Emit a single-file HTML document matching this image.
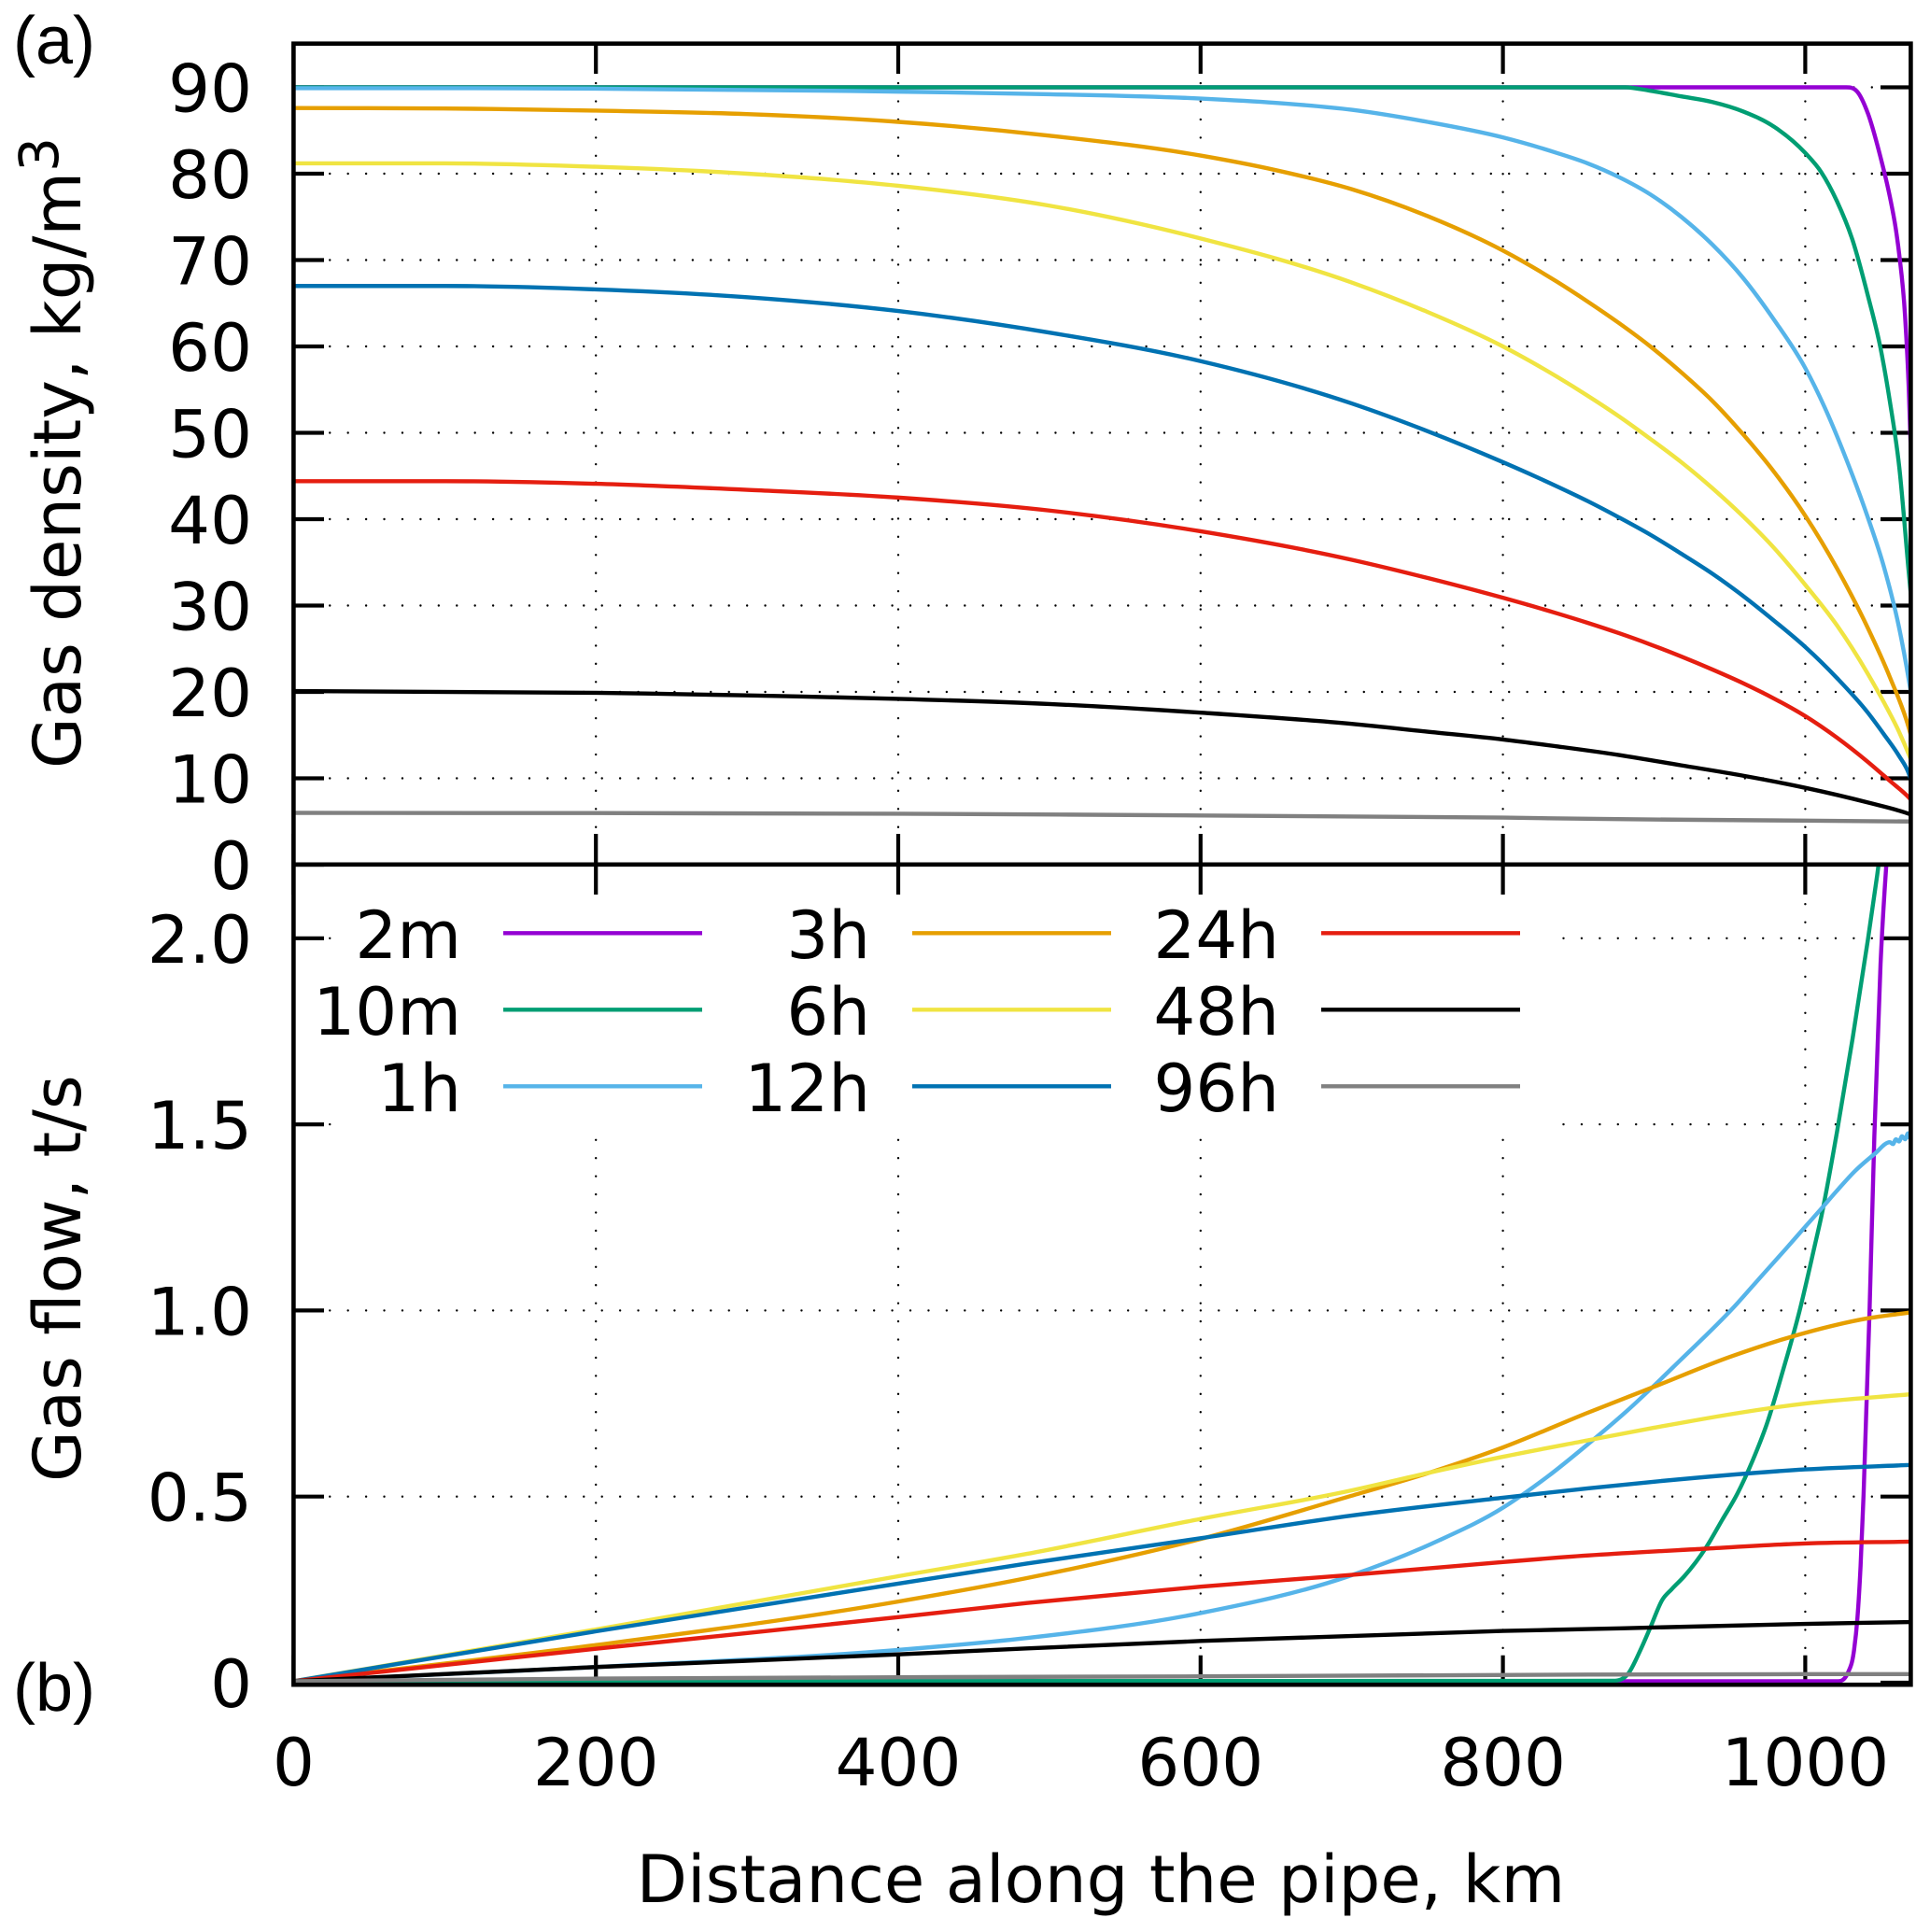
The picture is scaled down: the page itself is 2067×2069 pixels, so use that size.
<!DOCTYPE html>
<html lang="en">
<head>
<meta charset="utf-8">
<title>Gas density and gas flow along the pipe</title>
<style>
html,body{margin:0;padding:0;background:#fff;}
svg{display:block;}
text{font-family:"DejaVu Sans","Liberation Sans",sans-serif;fill:#000;}
.panel-tag{font-family:"Liberation Sans",sans-serif;font-size:72px;}
</style>
</head>
<body>
<svg id="chart" xmlns="http://www.w3.org/2000/svg" width="2067" height="2069" viewBox="0 0 2067 2069">
  <defs>
    <clipPath id="clip-top"><rect x="314.4" y="46.7" width="1732" height="879"/></clipPath>
    <clipPath id="clip-bottom"><rect x="314.4" y="926" width="1732" height="878"/></clipPath>
  </defs>
  <rect x="0" y="0" width="2067" height="2069" fill="#fff"/>
  <g id="grid"></g>
  <rect x="358" y="958" width="1315" height="257" fill="#fff"/>
  <g id="ticks"></g>
  <g id="curves-top" clip-path="url(#clip-top)"></g>
  <g id="curves-bottom" clip-path="url(#clip-bottom)"></g>
  <g fill="none" stroke="#000" stroke-width="4.6">
    <rect x="314.4" y="46.7" width="1732" height="1757.5"/>
    <line x1="314.4" x2="2046.4" y1="925.8" y2="925.8"/>
  </g>
  <g id="labels"></g>
  <g id="legend"></g>
  <text class="panel-tag" x="14" y="68">(a)</text>
  <text class="panel-tag" x="14" y="1832">(b)</text>
  <text font-size="70.6" transform="translate(86 823) rotate(-90)" x="0" y="0">Gas density, kg/m<tspan font-size="58" dy="-24">3</tspan></text>
  <text font-size="70.6" transform="translate(86 1587) rotate(-90)" x="0" y="0">Gas flow, t/s</text>
  <text font-size="70.6" text-anchor="middle" x="1179" y="2037">Distance along the pipe, km</text>
</svg>
<script>
// ---------- Chart data: distance ticks and axis ticks ----------
const xTicks = [0, 200, 400, 600, 800, 1000];
const xTickLabels = ["0", "200", "400", "600", "800", "1000"];
const densityTicks = [0, 10, 20, 30, 40, 50, 60, 70, 80, 90];
const densityTickLabels = ["0", "10", "20", "30", "40", "50", "60", "70", "80", "90"];
const flowTicks = [0, 0.5, 1, 1.5, 2];
const flowTickLabels = ["0", "0.5", "1.0", "1.5", "2.0"];
const seriesLabels = ["2m", "10m", "1h", "3h", "6h", "12h", "24h", "48h", "96h"];

// ---------- Panel (a): gas density, kg/m3 ----------
const densKm2m = [0, 1027, 1034.4, 1041.4, 1049.8, 1056, 1059.9, 1062.2, 1066, 1068.5, 1070];
const dens2m = [90, 90, 89.5, 87, 81.9, 77.3, 73.6, 70.6, 63.6, 55, 47];
const densKm10m = [0, 881, 897.5, 918, 938.5, 959, 979.7, 1000, 1010.5, 1021, 1031.3, 1041.4, 1049.8, 1056, 1062.2, 1068.4, 1070];
const dens10m = [90, 90, 89.6, 88.95, 88.3, 87.2, 85.4, 82.4, 80.2, 76.8, 72.3, 65.9, 59.8, 53.6, 46, 34, 31];
const densKm1h = [0, 100, 200, 400, 500, 600, 650, 700, 750, 800, 835.7, 856, 876.8, 897.5, 918, 938.5, 959, 979.7, 1000, 1012.7, 1027, 1041.4, 1052, 1062, 1068.4, 1070];
const dens1h = [89.9, 89.9, 89.85, 89.5, 89.2, 88.7, 88.2, 87.4, 86, 84.2, 82.4, 81.2, 79.6, 77.6, 75, 71.8, 67.9, 63, 57.5, 53, 47, 40.2, 34.5, 27.5, 21.5, 19.8];
const densKm3h = [0, 100, 200, 300, 400, 500, 600, 650, 700, 750, 800, 835.7, 856, 876.8, 897.5, 918, 938.5, 959, 979.7, 1000, 1021, 1041.4, 1056, 1068.4, 1070];
const dens3h = [87.6, 87.55, 87.3, 86.9, 86, 84.4, 82.1, 80.4, 78.2, 75.1, 71.1, 67.5, 65.2, 62.7, 60, 57, 53.7, 49.8, 45.4, 40.4, 34.3, 27.4, 21.7, 15.9, 14.9];
const densKm6h = [0, 100, 200, 300, 400, 500, 600, 700, 750, 800, 835.7, 856, 876.8, 897.5, 918, 938.5, 959, 979.7, 1000, 1021, 1041.4, 1052, 1062, 1068.4, 1070];
const dens6h = [81.2, 81.2, 80.8, 80, 78.6, 76.3, 72.5, 67.4, 64, 60, 56.5, 54.3, 51.9, 49.3, 46.6, 43.6, 40.3, 36.6, 32.4, 27.7, 22.1, 18.8, 15.4, 12.8, 12.1];
const densKm12h = [0, 100, 200, 300, 400, 500, 600, 700, 750, 800, 835.7, 856, 876.8, 897.5, 918, 938.5, 959, 979.7, 1000, 1021, 1041.4, 1052, 1062, 1068.4, 1070];
const dens12h = [67, 67, 66.6, 65.7, 64.1, 61.6, 58.3, 53.4, 50.2, 46.6, 43.8, 42.1, 40.2, 38.2, 36, 33.7, 31.1, 28.2, 25.2, 21.6, 17.6, 15.1, 12.6, 10.6, 9.8];
const densKm24h = [0, 100, 200, 300, 400, 500, 600, 700, 750, 800, 835.7, 856, 876.8, 897.5, 918, 938.5, 959, 979.7, 1000, 1021, 1041.4, 1056, 1068.4, 1070];
const dens24h = [44.4, 44.4, 44.1, 43.4, 42.5, 41, 38.6, 35.3, 33.2, 30.9, 29.1, 28, 26.8, 25.5, 24.1, 22.6, 21, 19.2, 17.2, 14.7, 11.9, 9.7, 7.8, 7.5];
const densKm48h = [0, 200, 300, 400, 500, 600, 700, 750, 800, 835.7, 876.8, 918, 959, 1000, 1041.4, 1068.4, 1070];
const dens48h = [20.1, 19.9, 19.6, 19.2, 18.6, 17.6, 16.3, 15.4, 14.5, 13.7, 12.7, 11.5, 10.3, 8.9, 7.2, 5.9, 5.8];
const densKm96h = [0, 400, 600, 800, 862, 1000, 1070];
const dens96h = [6, 5.9, 5.7, 5.45, 5.3, 5.1, 5];

// ---------- Panel (b): gas flow, t/s ----------
const flowKm2m = [0, 1021, 1028, 1032.3, 1034.5, 1036.6, 1038.6, 1042.6, 1045.7, 1049.8, 1053.5, 1056];
const flow2m = [0.004, 0.004, 0.025, 0.088, 0.173, 0.314, 0.507, 1.009, 1.468, 1.93, 2.19, 2.32];
const flowKm10m = [0, 873, 883, 891, 897.5, 905.5, 911.6, 920, 934.5, 945, 955, 965, 975, 985, 996.3, 1006.6, 1010.5, 1021, 1031.3, 1041.4, 1047.6, 1055];
const flow10m = [0.004, 0.005, 0.025, 0.088, 0.148, 0.223, 0.251, 0.286, 0.364, 0.437, 0.507, 0.595, 0.7, 0.835, 1, 1.18, 1.25, 1.48, 1.73, 1.995, 2.17, 2.4];
const flowKm1h = [0, 200, 400, 485, 600, 698, 757, 800, 813, 830, 856, 882, 917, 953, 971.6, 987.7, 1000, 1010.5, 1021, 1033, 1045.7, 1056, 1058, 1060, 1062, 1064, 1066, 1068, 1069, 1070];
const flow1h = [0.004, 0.042, 0.088, 0.12, 0.187, 0.286, 0.381, 0.47, 0.505, 0.555, 0.64, 0.73, 0.865, 1.01, 1.095, 1.168, 1.225, 1.273, 1.322, 1.375, 1.42, 1.452, 1.447, 1.46, 1.454, 1.468, 1.46, 1.476, 1.464, 1.48];
const flowKm3h = [0, 200, 400, 485, 600, 698, 752, 800, 856, 900, 950, 1000, 1040, 1070];
const flow3h = [0.004, 0.101, 0.218, 0.281, 0.386, 0.5, 0.565, 0.632, 0.725, 0.795, 0.875, 0.94, 0.978, 0.995];
const flowKm6h = [0, 200, 400, 485, 600, 698, 752, 800, 856, 900, 1000, 1070];
const flow6h = [0.004, 0.143, 0.286, 0.346, 0.44, 0.515, 0.565, 0.607, 0.651, 0.685, 0.75, 0.775];
const flowKm12h = [0, 200, 400, 485, 600, 698, 800, 856, 900, 1000, 1070];
const flow12h = [0.004, 0.138, 0.266, 0.32, 0.388, 0.448, 0.497, 0.522, 0.54, 0.573, 0.585];
const flowKm24h = [0, 200, 400, 485, 600, 698, 800, 836, 934, 1000, 1070];
const flow24h = [0.004, 0.091, 0.176, 0.214, 0.258, 0.289, 0.324, 0.336, 0.36, 0.374, 0.379];
const flowKm48h = [0, 200, 400, 485, 600, 800, 856, 1000, 1070];
const flow48h = [0.004, 0.042, 0.076, 0.092, 0.112, 0.139, 0.144, 0.158, 0.163];
const flowKm96h = [0, 200, 600, 1000, 1070];
const flow96h = [0.004, 0.011, 0.017, 0.023, 0.023];

const densitySeries = [[densKm2m, dens2m], [densKm10m, dens10m], [densKm1h, dens1h], [densKm3h, dens3h], [densKm6h, dens6h], [densKm12h, dens12h], [densKm24h, dens24h], [densKm48h, dens48h], [densKm96h, dens96h]];
const flowSeries = [[flowKm2m, flow2m], [flowKm10m, flow10m], [flowKm1h, flow1h], [flowKm3h, flow3h], [flowKm6h, flow6h], [flowKm12h, flow12h], [flowKm24h, flow24h], [flowKm48h, flow48h], [flowKm96h, flow96h]];

// ---------- Appearance and axis functions ----------
const seriesColors = ["#9400d3", "#009e73", "#56b4e9", "#e69f00", "#f0e442", "#0072b2", "#e51e10", "#000000", "#808080"];
const SVG_NS = "http://www.w3.org/2000/svg";
const FRAME = { left: 314.4, right: 2046.4, top: 46.7, mid: 925.8, bottom: 1804.2 };
function xScale(km) { return 314.4 + km * 1.619; }
function yDensity(v) { return 926 - v * 9.25; }
function yFlow(v) { return 1802 - v * 398.6; }

function make(tag, parent, attrs) {
  const el = document.createElementNS(SVG_NS, tag);
  for (const k in attrs) el.setAttribute(k, attrs[k]);
  parent.appendChild(el);
  return el;
}

// Smooth cubic path through the data points (weighted tangents, shape-preserving limiter)
function smoothPath(xs, ys) {
  const n = xs.length, d = [], h = [], m = [];
  for (let i = 0; i < n - 1; i++) {
    h.push(xs[i + 1] - xs[i]);
    d.push((ys[i + 1] - ys[i]) / h[i]);
  }
  m.push(d[0]);
  for (let i = 1; i < n - 1; i++) {
    if (d[i - 1] * d[i] <= 0) { m.push(0); continue; }
    const t = (h[i] * d[i - 1] + h[i - 1] * d[i]) / (h[i - 1] + h[i]);
    const lim = 3 * Math.min(Math.abs(d[i - 1]), Math.abs(d[i]));
    m.push(Math.sign(t) * Math.min(Math.abs(t), lim));
  }
  m.push(d[n - 2]);
  let p = "M" + xs[0].toFixed(2) + " " + ys[0].toFixed(2);
  for (let i = 0; i < n - 1; i++) {
    const s = h[i] / 3;
    p += "C" + (xs[i] + s).toFixed(2) + " " + (ys[i] + m[i] * s).toFixed(2) + " " +
      (xs[i + 1] - s).toFixed(2) + " " + (ys[i + 1] - m[i + 1] * s).toFixed(2) + " " +
      xs[i + 1].toFixed(2) + " " + ys[i + 1].toFixed(2);
  }
  return p;
}

// ---------- Grid ----------
const gridGroup = document.getElementById("grid");
const DOT = { stroke: "#000", "stroke-width": 2.4, "stroke-linecap": "round", "stroke-dasharray": "0 19.43", fill: "none" };
function gridLine(x1, y1, x2, y2, name) {
  const ln = make("line", gridGroup, Object.assign({ x1: x1, y1: y1, x2: x2, y2: y2 }, DOT));
  
  
}
densityTicks.forEach(function (v) {
  if (v > 0) gridLine(FRAME.left, yDensity(v), FRAME.right, yDensity(v), "density-grid-line");
});
flowTicks.forEach(function (v) {
  if (v > 0) gridLine(FRAME.left, yFlow(v), FRAME.right, yFlow(v), "flow-grid-line");
});
xTicks.forEach(function (k) {
  if (k > 0) {
    gridLine(xScale(k), 924.6, xScale(k), FRAME.top, "density-vertical-grid-line");
    gridLine(xScale(k), 1803.7, xScale(k), FRAME.mid, "flow-vertical-grid-line");
  }
});

// ---------- Ticks ----------
const tickGroup = document.getElementById("ticks");
function tickLine(x1, y1, x2, y2, name) {
  const ln = make("line", tickGroup, { x1: x1, y1: y1, x2: x2, y2: y2, stroke: "#000", "stroke-width": 4.2 });
  
  
}
xTicks.forEach(function (k) {
  const x = xScale(k);
  tickLine(x, FRAME.top, x, 79, "x-tick-top");
  tickLine(x, 893, x, 958, "x-tick-middle");
  tickLine(x, 1772.7, x, FRAME.bottom, "x-tick-bottom");
});
densityTicks.forEach(function (v) {
  const y = yDensity(v);
  tickLine(FRAME.left, y, 347, y, "density-tick-left");
  tickLine(2014, y, FRAME.right, y, "density-tick-right");
});
flowTicks.forEach(function (v) {
  const y = yFlow(v);
  tickLine(FRAME.left, y, 347, y, "flow-tick-left");
  tickLine(2014, y, FRAME.right, y, "flow-tick-right");
});

// ---------- Curves ----------
const topGroup = document.getElementById("curves-top");
const bottomGroup = document.getElementById("curves-bottom");
densitySeries.forEach(function (s, i) {
  const path = make("path", topGroup, {
    d: smoothPath(s[0].map(xScale), s[1].map(yDensity)),
    fill: "none", stroke: seriesColors[i], "stroke-width": 4.4, "stroke-linejoin": "round"
  });
  
  
});
flowSeries.forEach(function (s, i) {
  const path = make("path", bottomGroup, {
    d: smoothPath(s[0].map(xScale), s[1].map(yFlow)),
    fill: "none", stroke: seriesColors[i], "stroke-width": 4.4, "stroke-linejoin": "round"
  });
  
  
});

// ---------- Tick labels ----------
const labelGroup = document.getElementById("labels");
function addLabel(x, y, str, anchor, name) {
  const t = make("text", labelGroup, { x: x, y: y, "font-size": 70.6, "text-anchor": anchor });
  t.textContent = str;
  
  
}
densityTicks.forEach(function (v, i) {
  addLabel(270, yDensity(v) + 26, densityTickLabels[i], "end", "density-tick-label");
});
flowTicks.forEach(function (v, i) {
  addLabel(270, yFlow(v) + 26, flowTickLabels[i], "end", "flow-tick-label");
});
xTicks.forEach(function (k, i) {
  addLabel(xScale(k), 1912, xTickLabels[i], "middle", "x-tick-label");
});

// ---------- Legend ----------
const legendGroup = document.getElementById("legend");
const legendCols = [{ text: 494, a: 539, b: 752 }, { text: 932, a: 977, b: 1190 }, { text: 1370, a: 1415, b: 1628 }];
const legendRows = [{ base: 1026, line: 999.3 }, { base: 1108, line: 1081.3 }, { base: 1190, line: 1163.3 }];
seriesLabels.forEach(function (lab, i) {
  const col = legendCols[Math.floor(i / 3)], row = legendRows[i % 3];
  const t = make("text", legendGroup, { x: col.text, y: row.base, "font-size": 70.6, "text-anchor": "end" });
  t.textContent = lab;
  
  
  const s = make("line", legendGroup, { x1: col.a, x2: col.b, y1: row.line, y2: row.line, stroke: seriesColors[i], "stroke-width": 4.4 });
  
  
});
</script>
</body>
</html>
